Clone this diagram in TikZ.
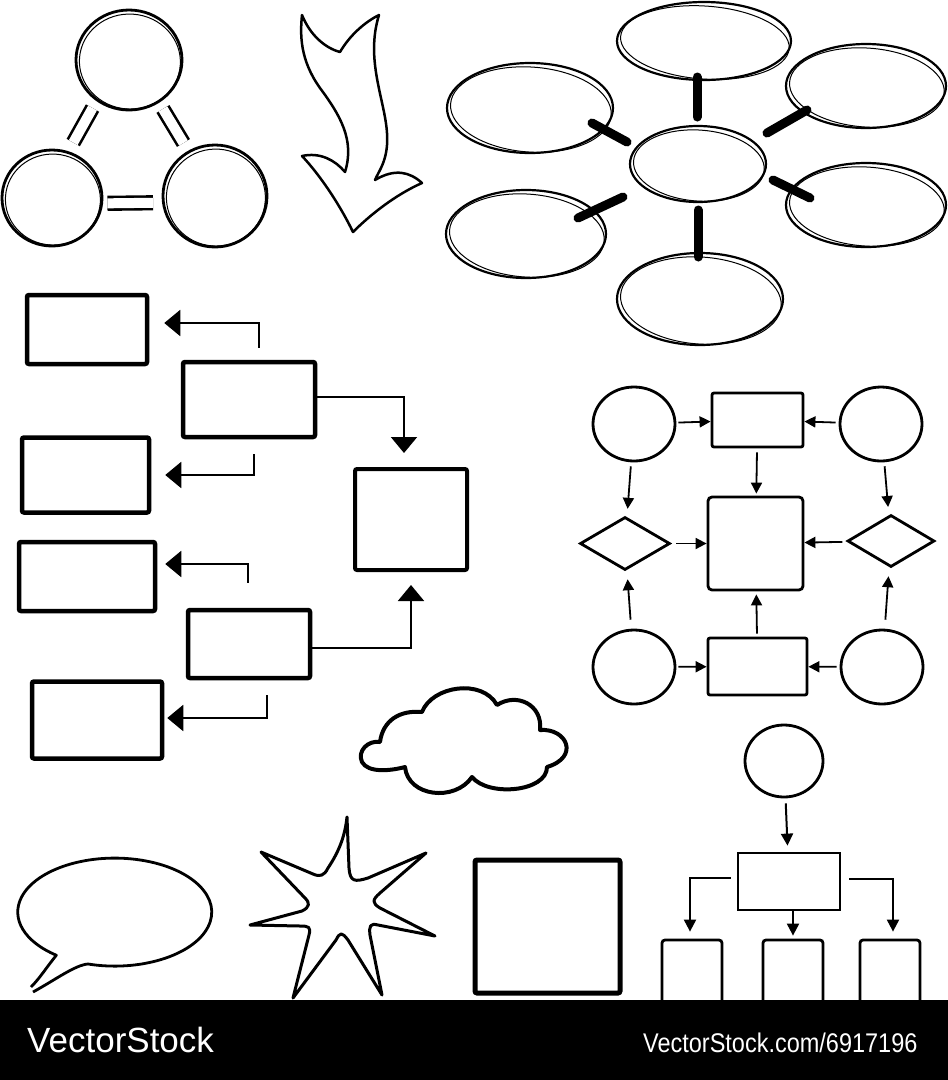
\documentclass[tikz,border=0pt]{standalone}
\usepackage{fontspec}
\newfontfamily\lsans{Liberation Sans}
\usetikzlibrary{shapes.geometric,arrows.meta,calc}
% sketchy ellipse: name, x, y, rx, ry, line width
\newcommand\skell[6]{%
  \node[ellipse, draw, line width=#6pt, minimum width=2*#4 pt, minimum height=2*#5 pt, inner sep=0pt] (#1) at (#2,#3) {};
  \draw[line width=1pt, rotate around={-4:(#2,#3)}] (#2+1,#3+1.5) ellipse [x radius=#4-2.5, y radius=#5-2.5];
}
\begin{document}
\begin{tikzpicture}[x=1pt,y=-1pt,
  lbox/.style={draw, line width=4.5pt, rounded corners=2pt, inner sep=0pt},
  rshape/.style={draw, line width=2.8pt, inner sep=0pt},
  larr/.style={line width=2pt, -{Triangle[length=16pt,width=26pt]}},
  sarr/.style={line width=1.8pt, -{Triangle[length=11pt,width=11pt]}},
  tarr/.style={line width=2pt, -{Triangle[length=12pt,width=12pt]}},
  bar/.style={line width=9pt, line cap=round},
  dbl/.style={double, double distance=10pt, line width=2.6pt}]
\fill[white] (0,0) rectangle (948,1080);
\useasboundingbox (0,0) rectangle (948,1080);

% ---------- top-left triangle of circles
\skell{tA}{129}{60}{53}{50}{2.8}
\skell{tB}{52}{198}{50}{48}{2.8}
\skell{tC}{215}{196}{52}{51}{2.8}
\draw[dbl] ($(tB)!0.38!(tA)+(-8,-3)$) -- ($(tB)!0.63!(tA)+(-8,-3)$);
\draw[dbl] ($(tA)!0.36!(tC)+(3,0)$) -- ($(tA)!0.61!(tC)+(2,0)$);
\draw[dbl] ($(tB)!0.34!(tC)+(0,6)$) -- ($(tB)!0.62!(tC)+(0,6)$);

% ---------- curvy arrow
\draw[line width=2.5pt, line join=round] (302,15) .. controls (310,35) and (325,48) .. (340,52)
 .. controls (350,35) and (365,22) .. (379,15)
 .. controls (365,60) and (385,100) .. (387,133)
 .. controls (389,160) and (378,172) .. (375,180)
 .. controls (395,168) and (410,172) .. (422,183)
 .. controls (395,195) and (370,215) .. (353,232)
 .. controls (340,205) and (320,175) .. (302,156)
 .. controls (320,152) and (335,160) .. (345,172)
 .. controls (355,140) and (340,115) .. (320,88)
 .. controls (300,60) and (300,35) .. (302,15) -- cycle;

% ---------- mind map
\skell{mT}{704}{41}{87}{39}{2.2}
\skell{mUL}{530}{108}{83}{45}{2.2}
\skell{mUR}{866}{86}{80}{42}{2.2}
\skell{m0}{698}{164}{68}{38}{2.2}
\skell{mLL}{526}{234}{80}{44}{2.2}
\skell{mLR}{866}{205}{80}{42}{2.2}
\skell{mB}{700}{299}{83}{46}{2.2}
\draw[bar] ($(mT)+(-7,36)$) -- ($(m0)+(-1,-47)$);
\draw[bar] ($(mUL)+(62,15)$) -- ($(m0)+(-71,-22)$);
\draw[bar] ($(m0)+(69,-31)$) -- ($(mUR)+(-59,24)$);
\draw[bar] ($(mLL)+(52,-16)$) -- ($(m0)+(-75,33)$);
\draw[bar] ($(m0)+(75,16)$) -- ($(mLR)+(-56,-7)$);
\draw[bar] ($(m0)+(0,46)$) -- ($(mB)+(-2,-42)$);

% ---------- left flowchart
\node[lbox, minimum width=120pt, minimum height=69pt] (a1) at (87,329.5) {};
\node[lbox, minimum width=132pt, minimum height=75pt] (b1) at (249,399.5) {};
\node[lbox, minimum width=127pt, minimum height=75pt] (a2) at (85.5,475) {};
\node[lbox, minimum width=136pt, minimum height=69pt] (a3) at (87,576.5) {};
\node[lbox, minimum width=122pt, minimum height=68pt] (b2) at (249,644) {};
\node[lbox, minimum width=130pt, minimum height=77pt] (a4) at (97,720) {};
\node[lbox, line width=4pt, minimum width=112pt, minimum height=101pt] (sq) at (411,519.5) {};
\draw[larr] ($(b1.north)+(10,-12)$) |- ($(a1.east)+(15,-6.5)$);
\draw[larr] ($(b1.south)+(5,15)$) |- ($(a2.east)+(14,0)$);
\draw[larr] ($(b2.north)+(-1,-25)$) |- ($(a3.east)+(8,-12.5)$);
\draw[larr] ($(b2.south)+(18,15)$) |- ($(a4.east)+(3,-2)$);
\draw[larr] ($(b1.east)+(0,-2.5)$) -| ($(sq.north)+(-7,-14)$);
\draw[larr] ($(b2.east)+(0,4)$) -| ($(sq.south)+(0,13)$);

% ---------- right flowchart
\node[rshape, ellipse, minimum width=82pt, minimum height=74pt] (fc1) at (634,424) {};
\node[rshape, rectangle, rounded corners=2pt, minimum width=91pt, minimum height=54pt] (fr1) at (757.5,420) {};
\node[rshape, ellipse, minimum width=82pt, minimum height=74pt] (fc2) at (881,424) {};
\node[rshape, diamond, minimum width=90pt, minimum height=53pt] (fd1) at (625,543.5) {};
\node[rshape, rectangle, rounded corners=4pt, minimum width=95pt, minimum height=93pt] (fsq) at (755.5,543.5) {};
\node[rshape, diamond, minimum width=87pt, minimum height=52pt] (fd2) at (891,541) {};
\node[rshape, ellipse, minimum width=82pt, minimum height=74pt] (fc3) at (634,667) {};
\node[rshape, rectangle, rounded corners=2pt, minimum width=99pt, minimum height=57pt] (fr2) at (757.5,666.5) {};
\node[rshape, ellipse, minimum width=82pt, minimum height=74pt] (fc4) at (882,667) {};
\draw[sarr, shorten <=2pt] (fc1) -- (fr1);
\draw[sarr, shorten <=3pt] (fc2) -- (fr1);
\draw[sarr, shorten <=4pt, shorten >=2pt] (fr1) -- (fsq);
\draw[sarr, shorten <=4pt, shorten >=8pt] (fc1) -- (fd1);
\draw[sarr, shorten <=4pt, shorten >=8pt] (fc2) -- (fd2);
\draw[sarr, shorten <=5pt] (fd1) -- (fsq);
\draw[sarr, shorten <=5pt] (fd2) -- (fsq);
\draw[sarr, shorten <=9pt, shorten >=9pt] (fc3) -- (fd1);
\draw[sarr, shorten <=9pt, shorten >=9pt] (fc4) -- (fd2);
\draw[sarr, shorten <=3pt, shorten >=3pt] (fr2) -- (fsq);
\draw[sarr, shorten <=2pt] (fc3) -- (fr2);
\draw[sarr, shorten <=3pt] (fc4) -- (fr2);

% ---------- tree
\node[rshape, ellipse, minimum width=78pt, minimum height=72pt] (tc) at (784,761) {};
\node[rshape, rectangle, minimum width=102pt, minimum height=57pt] (tr) at (789,881.5) {};
\node[rshape, rectangle, rounded corners=3pt, minimum width=60pt, minimum height=66pt] (tb1) at (692,973) {};
\node[rshape, rectangle, rounded corners=3pt, minimum width=60pt, minimum height=66pt] (tb2) at (793,973) {};
\node[rshape, rectangle, rounded corners=3pt, minimum width=60pt, minimum height=66pt] (tb3) at (890,973) {};
\draw[tarr, shorten <=5pt, shorten >=6pt] (tc) -- (tr);
\draw[tarr, shorten <=6pt, shorten >=7pt] ($(tr.west)+(0,-3.5)$) -| ($(tb1.north)+(-2,0)$);
\draw[tarr, shorten >=3pt] (tr.south -| tb2.north) -- (tb2.north);
\draw[tarr, shorten <=8pt, shorten >=7pt] ($(tr.east)+(0,-3)$) -| ($(tb3.north)+(3,0)$);

% ---------- cloud
\draw[line width=4pt, line join=round] (380,742) .. controls (383,720) and (400,710) .. (422,712)
 .. controls (432,686) and (482,678) .. (497,705)
 .. controls (517,692) and (543,705) .. (540,730)
 .. controls (567,728) and (580,757) .. (547,767)
 .. controls (547,792) and (488,797) .. (472,777)
 .. controls (455,802) and (408,797) .. (405,767)
 .. controls (390,771) and (368,773) .. (362,762)
 .. controls (357,751) and (368,740) .. (380,742) -- cycle;

% ---------- speech bubble
\draw[line width=2.8pt, line join=round] (33,992) .. controls (55,980) and (75,965) .. (88,964)
 arc[start angle=106, end angle=-233, x radius=97, y radius=54]
 .. controls (46,968) and (40,978) .. (31,987);

% ---------- star
\draw[line width=3pt, line join=round] (347,817) -- (349,868) .. controls (350,882) and (355,882) .. (368,878) -- (426,853)
 -- (380,893) .. controls (372,900) and (372,903) .. (380,908) -- (435,936)
 -- (378,925) .. controls (370,923) and (369,926) .. (370,935) -- (382,995)
 -- (348,940) .. controls (342,932) and (340,932) .. (336,940) -- (293,998)
 -- (309,935) .. controls (311,927) and (309,926) .. (300,926) -- (250,925)
 -- (302,911) .. controls (310,907) and (310,903) .. (305,898) -- (261,852)
 -- (313,874) .. controls (320,877) and (324,876) .. (328,868)
 .. controls (340,850) and (345,835) .. (347,817) -- cycle;

% ---------- bottom square
\node[lbox, line width=5pt, minimum width=145pt, minimum height=133pt] (bsq) at (547.5,926.5) {};

% ---------- band
\fill[black] (0,1000) rectangle (948,1080);
\node[anchor=base west, inner sep=0pt, text=white, font=\lsans\fontsize{35}{40}\selectfont] (wm1) at (27,1052) {VectorStock};
\node[anchor=base west, inner sep=0pt, text=white, font=\lsans\fontsize{27}{30}\selectfont, xscale=0.87] (wm2) at (643,1052) {VectorStock.com/6917196};
\end{tikzpicture}
\end{document}
